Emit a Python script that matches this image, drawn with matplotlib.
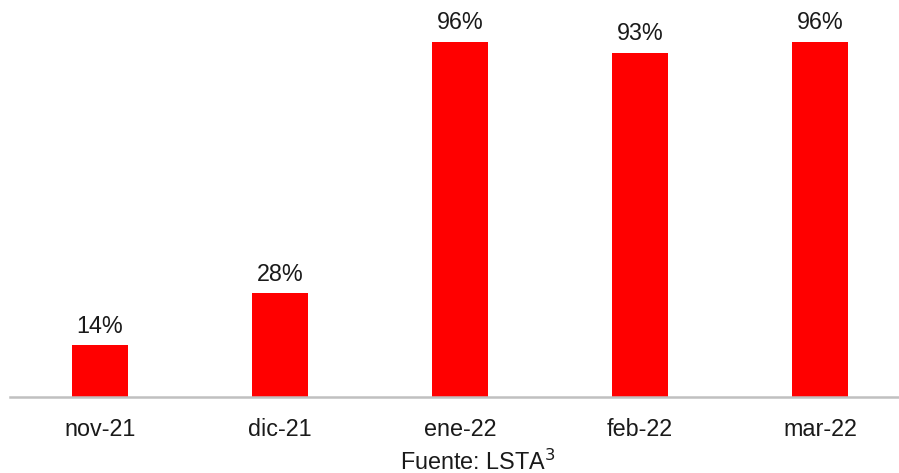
import matplotlib
matplotlib.use("Agg")
import matplotlib.pyplot as plt

categories = ["nov-21", "dic-21", "ene-22", "feb-22", "mar-22"]
values = [14, 28, 96, 93, 96]
labels = ["14%", "28%", "96%", "93%", "96%"]

plt.rcParams['font.family'] = ['Liberation Sans', 'DejaVu Sans']

W, H = 899, 473
fig = plt.figure(figsize=(W/100, H/100), dpi=100)
left = 10 / W
bottom = 76 / H
ax = fig.add_axes([left, bottom, 1 - left, (397 - 27) / H])
x = list(range(len(categories)))
ax.bar(x, values, width=0.31, color="#FF0000", zorder=2)
ax.set_xlim(-0.5, -0.5 + 889 / 180)
ax.set_ylim(0, 100)
for xi, v, lab in zip(x, values, labels):
    ax.text(xi, v + 2.0, lab, ha="center", va="bottom", fontsize=16.8, color="#1a1a1a")
for s in ["top", "right", "left"]:
    ax.spines[s].set_visible(False)
ax.spines["bottom"].set_color("#c0c0c0")
ax.spines["bottom"].set_linewidth(1.8)
ax.set_yticks([])
ax.set_xticks(x)
ax.set_xticklabels(categories, fontsize=16.8, color="#1a1a1a")
ax.tick_params(axis="x", length=0, pad=15)
fig.text(478 / W, 1 - 462 / H, "Fuente: LSTA$^{3}$", ha="center", va="center", fontsize=16.8, color="#1a1a1a")
fig.savefig("out.png", dpi=100)
